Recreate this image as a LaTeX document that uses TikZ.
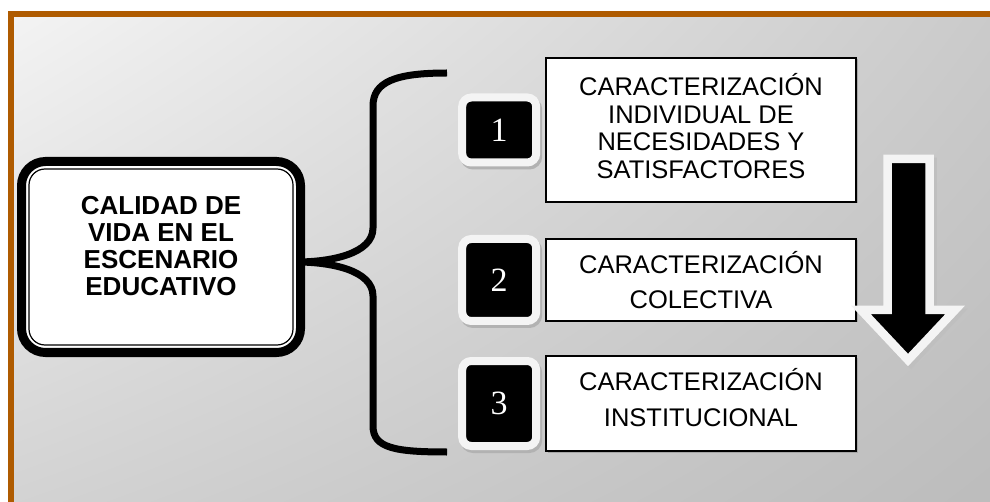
\documentclass[tikz,border=0pt]{standalone}
\usepackage{fontspec}
\setmainfont{Liberation Sans}
\newfontfamily\numfont{Liberation Serif}
\usetikzlibrary{positioning, shadows, shadings}
\definecolor{frameorange}{HTML}{AF5B00}
\definecolor{badgewhite}{HTML}{F4F4F4}
\definecolor{bgtl}{HTML}{F3F3F3}
\definecolor{bgtr}{HTML}{CACACA}
\definecolor{bgbl}{HTML}{D2D2D2}
\definecolor{bgbr}{HTML}{BCBCBC}

\begin{document}
\begin{tikzpicture}[x=1pt, y=-1pt,
    mainbox/.style={draw, line width=9pt, fill=white, rounded corners=24pt, minimum width=279pt, minimum height=191pt, inner sep=0pt},
    maintext/.style={align=center, font=\fontsize{26}{27}\selectfont\bfseries},
    badge/.style={draw=badgewhite, line width=8pt, fill=black, rounded corners=9pt, minimum width=74pt, inner sep=0pt, text=white, font=\numfont\fontsize{34}{34}\selectfont,
        general shadow={shadow xshift=2pt, shadow yshift=-3pt, draw=black!30, fill=black!30, line width=8pt}},
    stepbox/.style={draw, line width=1.6pt, fill=white, minimum width=310pt, inner sep=0pt, align=center,
        general shadow={shadow xshift=1.5pt, shadow yshift=-1.5pt, fill=black!35}},
    brace/.style={line width=7pt},
    arrowshape/.style={draw=badgewhite, line width=8.5pt, fill=black, miter limit=20,
        general shadow={shadow xshift=3pt, shadow yshift=-3pt, draw=black!25, fill=black!25, line width=8.5pt}}]
\useasboundingbox (0,0) rectangle (990,502);

% Background and frame
\shade[upper left=bgtl, upper right=bgtr, lower left=bgbl, lower right=bgbr] (14,17) rectangle (1000,510);
\fill[frameorange] (8,11) rectangle (1000,17);
\fill[frameorange] (8,11) rectangle (14,510);

% Main box
\node[mainbox] (main) at (161,257) {};
\draw[line width=1.2pt, rounded corners=16pt] ([shift={(12pt,-12pt)}]main.north west) rectangle ([shift={(-12pt,12pt)}]main.south east);
\node[maintext] (mainLabel) at ([yshift=11pt]main.center) {CALIDAD DE\\VIDA EN EL\\ESCENARIO\\EDUCATIVO};

% Brace
\coordinate (braceTop) at (447,73);
\coordinate (braceBot) at (447,452);
\draw[brace] (braceTop) .. controls (395,73) and (373,82) .. (373,106) -- (373,228)
    .. controls (373,254) and (330,262) .. ([xshift=-8pt,yshift=-5pt]main.east)
    .. controls (330,262) and (373,270) .. (373,296) -- (373,426)
    .. controls (373,448) and (395,452) .. (braceBot);

% Steps
\node[stepbox, minimum height=144pt, font=\fontsize{25.5}{27.7}\selectfont] (stepOne) at (701,130) {CARACTERIZACIÓN\\INDIVIDUAL DE\\NECESIDADES Y\\SATISFACTORES\\[-19.7pt]};
\node[stepbox, minimum height=82pt, font=\fontsize{25.5}{35}\selectfont] (stepTwo) at (701,280) {CARACTERIZACIÓN\\COLECTIVA};
\node[stepbox, minimum height=95pt, font=\fontsize{25.5}{36}\selectfont] (stepThree) at (701,403.5) {CARACTERIZACIÓN\\INSTITUCIONAL\\[-24pt]};

% Numbers
\foreach \n/\s/\h in {1/stepOne/65, 2/stepTwo/82, 3/stepThree/85} {
    \node[badge, minimum height=\h pt, left=5pt of \s] (badge\n) {\n};
}

% Down arrow
\draw[arrowshape] (887.5,159) -- (929.5,159) -- (929.5,310) -- (955,310) -- (908,360) -- (861,310) -- (887.5,310) -- cycle;

\end{tikzpicture}
\end{document}
